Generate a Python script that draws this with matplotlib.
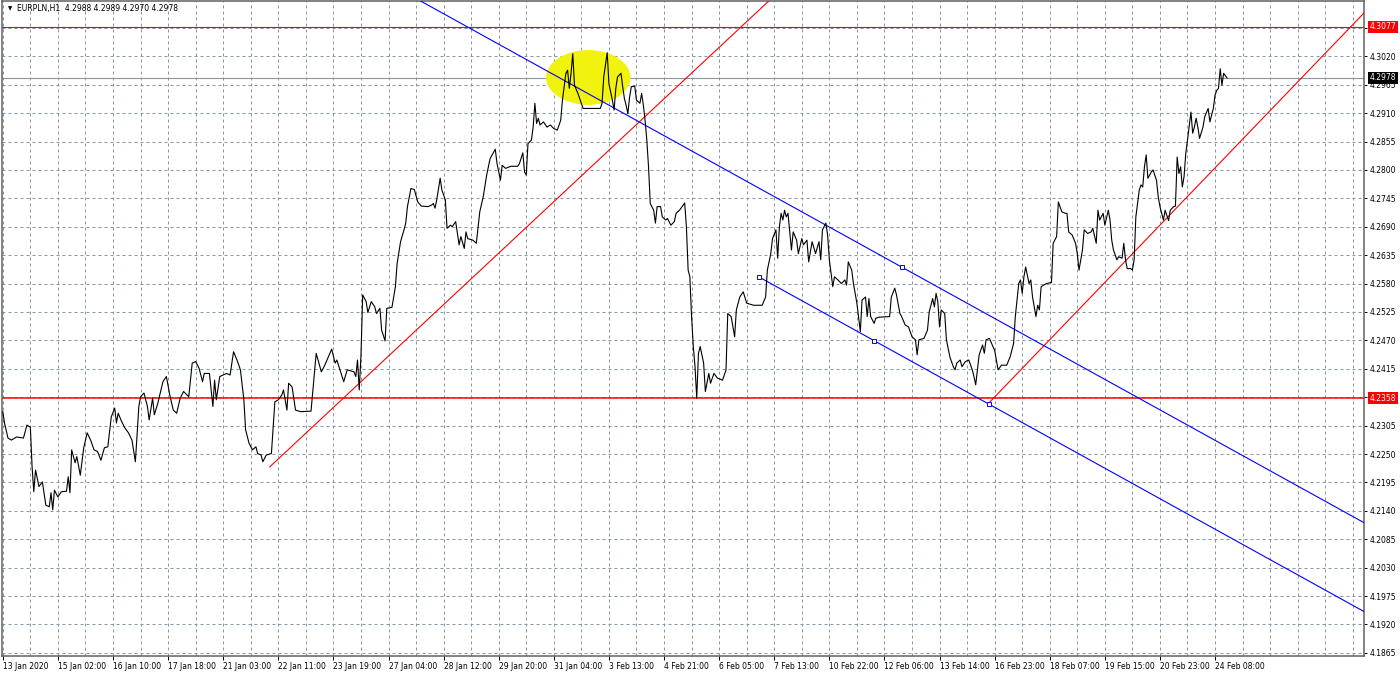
import matplotlib
matplotlib.use("Agg")
import matplotlib.pyplot as plt
import matplotlib.transforms as mtransforms
from matplotlib.patches import Ellipse

# header line of the chart window
symbol = "EURPLN,H1"
last_ohlc = "4.2988 4.2989 4.2970 4.2978"

# H1 bar index (0 = first bar on screen) and close price
bars = [
    0, 1, 3, 5, 8, 12, 14, 16, 17, 18,
    19, 21, 23, 25, 27, 28, 29, 30, 32, 34,
    37, 38, 39, 40, 42, 43, 45, 47, 49, 51,
    53, 55, 57, 59, 61, 63, 65, 66, 67, 69,
    71, 73, 75, 77, 79, 80, 82, 84, 85, 87,
    88, 90, 93, 95, 97, 99, 101, 103, 105, 108,
    110, 112, 114, 116, 117, 120, 121, 122, 123, 124,
    126, 130, 132, 134, 136, 138, 140, 141, 143, 145,
    147, 148, 150, 151, 153, 156, 158, 160, 162, 163,
    165, 166, 168, 170, 173, 179, 182, 185, 187, 191,
    193, 194, 198, 200, 204, 205, 206, 207, 208, 209,
    211, 212, 214, 216, 217, 219, 220, 222, 223, 226,
    228, 229, 231, 233, 234, 235, 237, 239, 241, 243,
    247, 249, 250, 251, 252, 254, 255, 257, 258, 260,
    261, 263, 265, 266, 268, 269, 270, 273, 275, 277,
    279, 281, 283, 286, 287, 289, 290, 292, 295, 299,
    300, 302, 303, 304, 305, 307, 308, 309, 310, 311,
    312, 314, 316, 318, 320, 322, 324, 325, 327, 328,
    329, 330, 331, 332, 334, 336, 337, 341, 347, 348,
    349, 351, 352, 354, 355, 356, 357, 359, 360, 361,
    362, 363, 364, 365, 367, 368, 370, 371, 372, 373,
    374, 375, 376, 378, 379, 380, 382, 383, 385, 386,
    388, 390, 391, 393, 396, 397, 398, 399, 400, 401,
    402, 403, 404, 405, 407, 408, 410, 411, 413, 415,
    418, 420, 421, 423, 425, 426, 428, 430, 432, 436,
    441, 443, 444, 446, 447, 449, 450, 451, 452, 453,
    454, 455, 456, 458, 459, 461, 462, 464, 465, 467,
    468, 470, 472, 474, 475, 476, 478, 479, 480, 482,
    483, 485, 487, 489, 490, 491, 493, 494, 496, 498,
    499, 501, 502, 503, 504, 506, 507, 509, 515, 516,
    518, 519, 521, 522, 524, 526, 528, 530, 531, 532,
    535, 537, 538, 540, 541, 542, 543, 544, 545, 547,
    548, 550, 552, 553, 554, 556, 557, 559, 561, 563,
    564, 565, 567, 569, 570, 571, 573, 575, 576, 578,
    580, 583, 585, 587, 588, 590, 591, 592, 593, 594,
    596, 597, 598, 600, 601, 602, 603, 606, 609, 610,
    612, 613, 615, 617, 618, 619, 621, 623, 624, 625,
    627, 628, 630, 632, 633, 635, 636, 637, 639, 640,
    642, 643, 644, 645, 647, 648, 650, 651, 652, 653,
    655, 656, 657, 658, 660, 661, 662, 663, 664, 665,
    667, 668, 670, 671, 672, 674, 675, 677, 678, 680,
    681, 682, 683, 684, 685, 686, 687, 688, 690, 691,
    692, 693, 694, 695, 697, 698, 700, 701, 703, 704,
    705, 706, 707, 708, 709, 711,
]
closes = [
    4.2332, 4.2310, 4.2281, 4.2277, 4.2283, 4.2281, 4.2306, 4.2302, 4.2226, 4.2177,
    4.2219, 4.2187, 4.2196, 4.2151, 4.2148, 4.2175, 4.2142, 4.2180, 4.2167, 4.2177,
    4.2178, 4.2206, 4.2175, 4.2258, 4.2233, 4.2245, 4.2209, 4.2262, 4.2291, 4.2277,
    4.2258, 4.2255, 4.2238, 4.2262, 4.2264, 4.2322, 4.2339, 4.2310, 4.2329, 4.2313,
    4.2300, 4.2291, 4.2277, 4.2235, 4.2342, 4.2361, 4.2368, 4.2342, 4.2316, 4.2358,
    4.2326, 4.2348, 4.2390, 4.2400, 4.2364, 4.2335, 4.2329, 4.2358, 4.2371, 4.2361,
    4.2426, 4.2429, 4.2416, 4.2390, 4.2406, 4.2406, 4.2374, 4.2342, 4.2393, 4.2355,
    4.2400, 4.2406, 4.2403, 4.2448, 4.2432, 4.2413, 4.2355, 4.2297, 4.2271, 4.2258,
    4.2264, 4.2251, 4.2248, 4.2235, 4.2248, 4.2251, 4.2351, 4.2355, 4.2364, 4.2374,
    4.2335, 4.2387, 4.2380, 4.2335, 4.2332, 4.2333, 4.2445, 4.2409, 4.2422, 4.2453,
    4.2426, 4.2432, 4.2390, 4.2413, 4.2409, 4.2400, 4.2432, 4.2374, 4.2440, 4.2558,
    4.2545, 4.2524, 4.2545, 4.2535, 4.2522, 4.2532, 4.2490, 4.2469, 4.2532, 4.2534,
    4.2574, 4.2619, 4.2661, 4.2684, 4.2697, 4.2729, 4.2764, 4.2762, 4.2738, 4.2730,
    4.2729, 4.2732, 4.2735, 4.2726, 4.2742, 4.2784, 4.2761, 4.2742, 4.2687, 4.2693,
    4.2690, 4.2700, 4.2655, 4.2671, 4.2648, 4.2680, 4.2667, 4.2664, 4.2658, 4.2719,
    4.2748, 4.2790, 4.2822, 4.2840, 4.2813, 4.2780, 4.2809, 4.2803, 4.2807, 4.2807,
    4.2812, 4.2833, 4.2796, 4.2790, 4.2851, 4.2858, 4.2883, 4.2929, 4.2890, 4.2900,
    4.2887, 4.2893, 4.2883, 4.2887, 4.2880, 4.2877, 4.2896, 4.2935, 4.2987, 4.2993,
    4.2958, 4.2987, 4.3025, 4.2964, 4.2948, 4.2929, 4.2919, 4.2919, 4.2919, 4.2929,
    4.2980, 4.3027, 4.2967, 4.2935, 4.2916, 4.2958, 4.2980, 4.2987, 4.2961, 4.2938,
    4.2925, 4.2909, 4.2941, 4.2961, 4.2962, 4.2935, 4.2929, 4.2948, 4.2925, 4.2896,
    4.2858, 4.2806, 4.2735, 4.2722, 4.2697, 4.2729, 4.2729, 4.2709, 4.2703, 4.2706,
    4.2693, 4.2700, 4.2716, 4.2722, 4.2736, 4.2690, 4.2606, 4.2593, 4.2516, 4.2458,
    4.2419, 4.2358, 4.2445, 4.2458, 4.2426, 4.2371, 4.2406, 4.2387, 4.2406, 4.2397,
    4.2393, 4.2413, 4.2522, 4.2516, 4.2477, 4.2529, 4.2554, 4.2564, 4.2542, 4.2538,
    4.2538, 4.2554, 4.2606, 4.2638, 4.2667, 4.2684, 4.2629, 4.2690, 4.2716, 4.2703,
    4.2722, 4.2709, 4.2716, 4.2645, 4.2680, 4.2664, 4.2638, 4.2667, 4.2655, 4.2664,
    4.2622, 4.2661, 4.2638, 4.2661, 4.2626, 4.2684, 4.2697, 4.2674, 4.2626, 4.2574,
    4.2593, 4.2587, 4.2580, 4.2587, 4.2577, 4.2622, 4.2606, 4.2580, 4.2542, 4.2487,
    4.2548, 4.2554, 4.2516, 4.2551, 4.2516, 4.2503, 4.2513, 4.2515, 4.2516, 4.2554,
    4.2571, 4.2558, 4.2522, 4.2516, 4.2500, 4.2496, 4.2477, 4.2471, 4.2442, 4.2471,
    4.2474, 4.2490, 4.2525, 4.2551, 4.2535, 4.2561, 4.2545, 4.2496, 4.2529, 4.2522,
    4.2471, 4.2438, 4.2419, 4.2413, 4.2426, 4.2432, 4.2419, 4.2429, 4.2432, 4.2413,
    4.2400, 4.2384, 4.2442, 4.2461, 4.2445, 4.2471, 4.2474, 4.2458, 4.2451, 4.2413,
    4.2422, 4.2422, 4.2438, 4.2464, 4.2516, 4.2580, 4.2587, 4.2561, 4.2593, 4.2612,
    4.2580, 4.2587, 4.2554, 4.2516, 4.2538, 4.2529, 4.2574, 4.2580, 4.2582, 4.2658,
    4.2671, 4.2738, 4.2719, 4.2716, 4.2716, 4.2680, 4.2674, 4.2658, 4.2638, 4.2606,
    4.2645, 4.2684, 4.2677, 4.2680, 4.2687, 4.2658, 4.2722, 4.2703, 4.2716, 4.2693,
    4.2722, 4.2703, 4.2664, 4.2645, 4.2626, 4.2632, 4.2629, 4.2658, 4.2626, 4.2609,
    4.2609, 4.2606, 4.2626, 4.2709, 4.2761, 4.2771, 4.2767, 4.2806, 4.2829, 4.2784,
    4.2796, 4.2800, 4.2780, 4.2748, 4.2729, 4.2703, 4.2722, 4.2702, 4.2722, 4.2729,
    4.2730, 4.2825, 4.2793, 4.2806, 4.2767, 4.2787, 4.2832, 4.2858, 4.2912, 4.2871,
    4.2883, 4.2900, 4.2883, 4.2861, 4.2883, 4.2903, 4.2919, 4.2893, 4.2919, 4.2945,
    4.2954, 4.2958, 4.2996, 4.2964, 4.2987, 4.2978,
]

# time axis: one label every 32 bars
time_labels = [
    "13 Jan 2020", "15 Jan 02:00", "16 Jan 10:00", "17 Jan 18:00", "21 Jan 03:00",
    "22 Jan 11:00", "23 Jan 19:00", "27 Jan 04:00", "28 Jan 12:00", "29 Jan 20:00",
    "31 Jan 04:00", "3 Feb 13:00", "4 Feb 21:00", "6 Feb 05:00", "7 Feb 13:00",
    "10 Feb 22:00", "12 Feb 06:00", "13 Feb 14:00", "16 Feb 23:00", "18 Feb 07:00",
    "19 Feb 15:00", "20 Feb 23:00", "24 Feb 08:00",
]
price_labels = [
    "4.1865", "4.1920", "4.1975", "4.2030", "4.2085", "4.2140", "4.2195", "4.2250",
    "4.2305", "4.2360", "4.2415", "4.2470", "4.2525", "4.2580", "4.2635", "4.2690",
    "4.2745", "4.2800", "4.2855", "4.2910", "4.2965", "4.3020", "4.3075",
]

# drawn objects
resistance_level = 4.3077
support_level = 4.2358
bid_price = 4.2978
red_trend_1 = [(155, 4.2225), (405, 4.3003)]
red_trend_2 = [(573, 4.2350), (719, 4.2856)]
channel_base = [(439, 4.2593), (573, 4.2346)]
channel_width = 0.0172
channel_upper_anchor = 522
channel_mid_anchor = 506
ellipse_center = (340, 4.2979)
ellipse_size = (49, 0.0106)

FONT = "DejaVu Sans"
FS = 5.5
W, H = 1400, 674

fig = plt.figure(figsize=(W / 100, H / 100), dpi=100)
fig.patch.set_facecolor("white")
ax = fig.add_axes([2 / W, 1 - 656 / H, (1364 - 2) / W, (656 - 1) / H])

x_lo, x_hi = -0.46, 790.5
y_lo, y_hi = 4.1859, 4.3127
ax.set_xlim(x_lo, x_hi)
ax.set_ylim(y_lo, y_hi)


def line_at(pts, x):
    (x1, y1), (x2, y2) = pts
    return y1 + (y2 - y1) * (x - x1) / (x2 - x1)


# grid
grid_kw = dict(color="#8796a6", linewidth=0.72, linestyle=(0, (3, 3)))
ax.set_xticks(range(0, 32 * len(time_labels), 32))
ax.set_xticklabels(time_labels, ha="left", fontsize=FS, family=FONT)
ax.set_xticks(range(16, int(x_hi), 16), minor=True)
price_vals = [float(p) for p in price_labels]
ax.set_yticks(price_vals)
ax.set_yticklabels(price_labels, fontsize=FS, family=FONT)
ax.yaxis.tick_right()
ax.grid(True, which="both", axis="x", **grid_kw)
ax.grid(True, which="major", axis="y", **grid_kw)
ax.set_axisbelow(True)
ax.tick_params(axis="x", which="major", length=3, width=0.7, pad=1.5)
ax.tick_params(axis="x", which="minor", length=0)
ax.tick_params(axis="y", length=2.5, width=0.7, pad=1.5)
for s in ax.spines.values():
    s.set_color("#606060")
    s.set_linewidth(1.1)

# horizontal levels
ax.axhline(resistance_level, color="#ff0000", lw=0.8, zorder=2)
ax.axhline(support_level, color="#ff0000", lw=1.1, zorder=2)
ax.axhline(bid_price, color="#8c949c", lw=0.8, zorder=2)

# highlighted ellipse
ax.add_patch(Ellipse(ellipse_center, ellipse_size[0], ellipse_size[1],
                     facecolor="#f2f20f", edgecolor="none", zorder=3))

# trend lines
for pts in (red_trend_1, red_trend_2):
    x0 = pts[0][0]
    ax.plot([x0, x_hi], [line_at(pts, x0), line_at(pts, x_hi)],
            color="#ff0000", lw=0.8, zorder=4)

# equidistant channel
x0 = channel_base[0][0]
ax.plot([x0, x_hi], [line_at(channel_base, x0), line_at(channel_base, x_hi)],
        color="#0000ff", lw=0.8, zorder=4)
ax.plot([x_lo - 200, x_hi],
        [line_at(channel_base, x_lo - 200) + channel_width,
         line_at(channel_base, x_hi) + channel_width],
        color="#0000ff", lw=0.8, zorder=4)
anchor_x = [channel_base[0][0], channel_mid_anchor, channel_base[1][0]]
ax.plot(anchor_x, [line_at(channel_base, a) for a in anchor_x], ls="none",
        marker="s", ms=3, mfc="white", mec="#0000ff", mew=0.7, zorder=6)
ax.plot([channel_upper_anchor],
        [line_at(channel_base, channel_upper_anchor) + channel_width],
        ls="none", marker="s", ms=3, mfc="white", mec="#0000ff", mew=0.7, zorder=6)

# price line
ax.plot(bars, closes, color="#000000", lw=0.8, zorder=5)

# price boxes on the axis
trans = mtransforms.blended_transform_factory(ax.transAxes, ax.transData)
for val, bg in ((resistance_level, "#ff0000"), (support_level, "#ff0000"), (bid_price, "#000000")):
    ax.text(1 + 5.5 / 1362, val, f"{val:.4f}", transform=trans, ha="left", va="center",
            fontsize=FS, family=FONT, color="white", clip_on=False, zorder=10,
            bbox=dict(boxstyle="square,pad=0.2", fc=bg, ec="none"))

# header
fig.text(8 / W, 1 - 9 / H, "\u25bc", fontsize=4, family=FONT, va="center", ha="left")
fig.text(17 / W, 1 - 9 / H, f"{symbol}  {last_ohlc}", fontsize=FS, family=FONT,
         va="center", ha="left")

fig.savefig("out.png", dpi=100)
